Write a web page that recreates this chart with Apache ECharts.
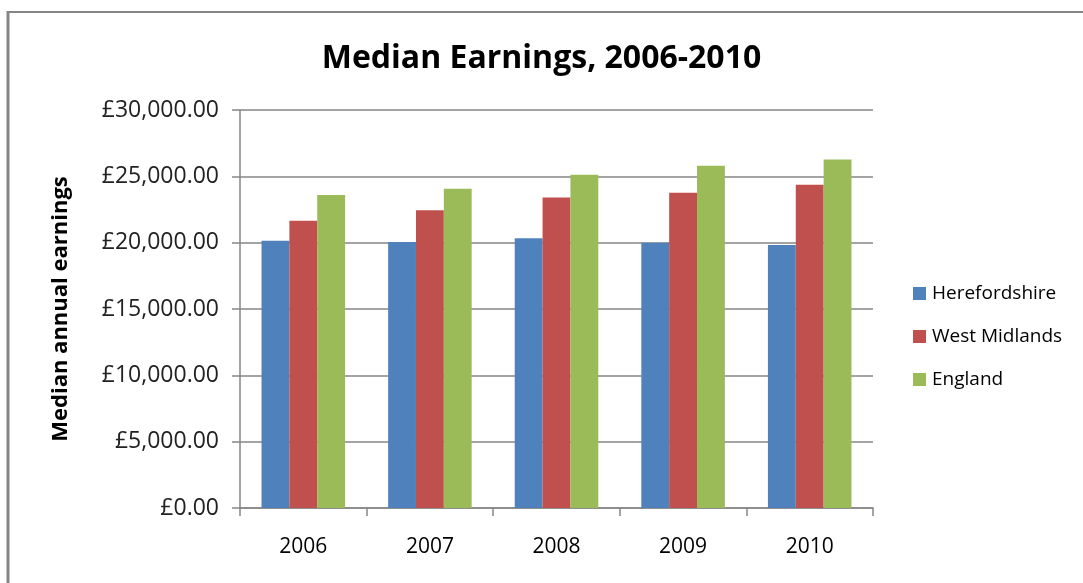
<!DOCTYPE html>
<html lang="en">
<head>
<meta charset="UTF-8">
<title>Median Earnings</title>
<script src="https://cdn.jsdelivr.net/npm/echarts@6/dist/echarts.min.js"></script>
<style>
  html, body { margin: 0; padding: 0; background: #fff; }
  #container { width: 1083px; height: 583px; }
</style>
</head>
<body>
<div id="container"></div>
<script type="text/javascript">
// data
var years = ['2006', '2007', '2008', '2009', '2010'];
var herefordshire = [20150, 20050, 20330, 20000, 19830];
var westMidlands = [21650, 22450, 23400, 23770, 24370];
var england = [23600, 24070, 25120, 25800, 26270];
var yTicks = [0, 5000, 10000, 15000, 20000, 25000, 30000];

var font = 'Open Sans, Lato, sans-serif';
var grey = '#868686';

var myChart = echarts.init(document.getElementById('container'));

function money(v) {
    return '£' + v.toLocaleString('en-GB', {minimumFractionDigits: 2, maximumFractionDigits: 2});
}

var option = {
    animation: false,
    title: {
        text: 'Median Earnings, 2006-2010',
        left: 'center',
        top: 38,
        textStyle: {color: '#000', fontFamily: font, fontSize: 32, fontWeight: 'bold'}
    },
    graphic: [
        {type: 'line', shape: {x1: 7, y1: 12, x2: 1083, y2: 12}, style: {stroke: grey, lineWidth: 2}},
        {type: 'line', shape: {x1: 8, y1: 11, x2: 8, y2: 583}, style: {stroke: grey, lineWidth: 3}}
    ],
    legend: {
        orient: 'vertical',
        left: 908,
        top: 279,
        itemWidth: 13,
        itemHeight: 13,
        itemGap: 24,
        icon: 'rect',
        textStyle: {color: '#000', fontFamily: font, fontSize: 19, padding: [0, 0, 0, 1]},
        data: ['Herefordshire', 'West Midlands', 'England']
    },
    grid: {left: 240, right: 210, top: 110, bottom: 75},
    xAxis: {
        type: 'category',
        data: years,
        axisLine: {lineStyle: {color: grey, width: 1.5}},
        axisTick: {show: true, length: 8, lineStyle: {color: grey, width: 1.5}},
        axisLabel: {color: '#000', fontFamily: font, fontSize: 21, margin: 29}
    },
    yAxis: {
        type: 'value',
        min: yTicks[0],
        max: yTicks[yTicks.length - 1],
        interval: 5000,
        name: 'Median annual earnings',
        nameLocation: 'middle',
        nameGap: 168,
        nameTextStyle: {color: '#000', fontFamily: font, fontSize: 22, fontWeight: 'bold'},
        axisLine: {show: true, lineStyle: {color: grey, width: 1.5}},
        axisTick: {show: true, length: 8, lineStyle: {color: grey, width: 1.5}},
        axisLabel: {color: '#222', fontFamily: font, fontSize: 23, margin: 21, formatter: money},
        splitLine: {lineStyle: {color: grey, width: 1.5}}
    },
    series: [
        {name: 'Herefordshire', type: 'bar', data: herefordshire, barGap: '0%', barCategoryGap: '34%',
            itemStyle: {color: '#4f81bd'}},
        {name: 'West Midlands', type: 'bar', data: westMidlands, barGap: '0%', barCategoryGap: '34%',
            itemStyle: {color: '#c0504d'}},
        {name: 'England', type: 'bar', data: england, barGap: '0%', barCategoryGap: '34%',
            itemStyle: {color: '#9bbb59'}}
    ]
};

myChart.setOption(option);
</script>
</body>
</html>
